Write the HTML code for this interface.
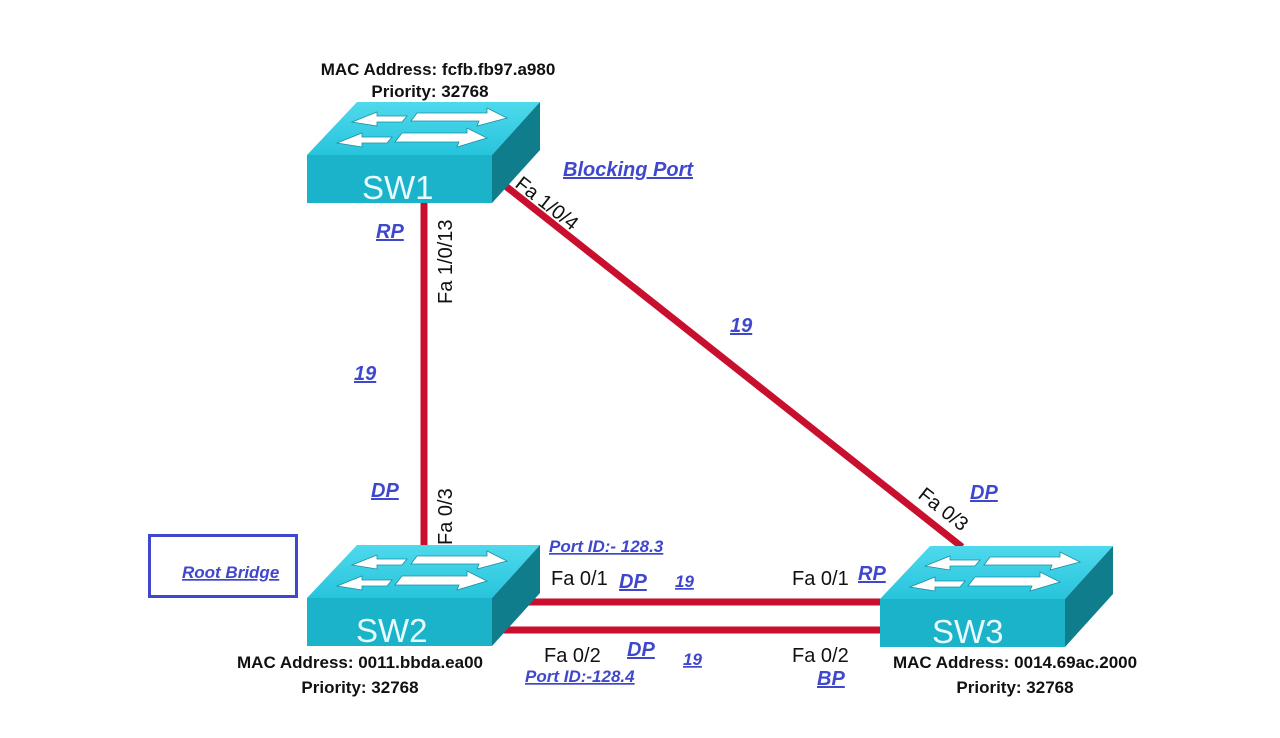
<!DOCTYPE html>
<html><head><style>
body{margin:0;background:#fff;}
svg{display:block}
.b{font-family:"Liberation Sans",sans-serif;font-size:17px;font-weight:bold;fill:#111;}
.l{font-family:"Liberation Sans",sans-serif;font-size:20px;font-weight:bold;font-style:italic;fill:#3f48cc;text-decoration:underline;}
.p{font-family:"Liberation Sans",sans-serif;font-size:20px;fill:#111;}
.sw{font-family:"Liberation Sans",sans-serif;font-size:33px;fill:#e8fbff;}
</style></head><body>
<svg width="1280" height="738" viewBox="0 0 1280 738" xmlns="http://www.w3.org/2000/svg">
<defs>
<linearGradient id="tg" x1="0" y1="1" x2="0" y2="0"><stop offset="0" stop-color="#27c4dc"/><stop offset="1" stop-color="#4fd9ec"/></linearGradient>
<g id="sw">
<polygon points="0,0 50,-53 233,-53 185,0" fill="url(#tg)"/>
<rect x="0" y="0" width="185" height="48" fill="#1bb3c9"/>
<polygon points="185,0 233,-53 233,-5 185,48" fill="#0f7d8c"/>
<g fill="#fff" stroke="#1a8fa3" stroke-width="0.8">
<polygon points="45,-33 70,-43 70,-39 100,-39 95,-33 70,-33 70,-29"/>
<polygon points="30,-12 55,-22 55,-18 85,-18 80,-12 55,-12 55,-8"/>
<polygon points="110,-42 180,-42 180,-47 200,-37 170,-29 172,-34 104,-34"/>
<polygon points="95,-22 160,-22 160,-27 180,-17 150,-8 152,-13 88,-13"/>
</g>
</g>
</defs>
<g stroke="#c8102e" stroke-width="7">
<line x1="424" y1="203" x2="424" y2="548"/>
<line x1="503" y1="184" x2="962" y2="547"/>
<line x1="525" y1="602" x2="882" y2="602"/>
<line x1="500" y1="630" x2="882" y2="630"/>
</g>
<use href="#sw" x="307" y="155"/>
<text class="sw" x="362" y="199">SW1</text>
<use href="#sw" x="307" y="598"/>
<text class="sw" x="356" y="642">SW2</text>
<use href="#sw" x="880" y="599"/>
<text class="sw" x="932" y="643">SW3</text>

<text class="b" x="438" y="75" text-anchor="middle">MAC Address: fcfb.fb97.a980</text>
<text class="b" x="430" y="97" text-anchor="middle">Priority: 32768</text>
<text class="b" x="360" y="668" text-anchor="middle">MAC Address: 0011.bbda.ea00</text>
<text class="b" x="360" y="693" text-anchor="middle">Priority: 32768</text>
<text class="b" x="1015" y="668" text-anchor="middle">MAC Address: 0014.69ac.2000</text>
<text class="b" x="1015" y="693" text-anchor="middle">Priority: 32768</text>

<text class="p" transform="translate(452,304) rotate(-90)">Fa 1/0/13</text>
<text class="p" transform="translate(452,545) rotate(-90)">Fa 0/3</text>
<text class="p" transform="translate(514,186) rotate(38)">Fa 1/0/4</text>
<text class="p" transform="translate(917,497) rotate(38)">Fa 0/3</text>
<text class="p" x="551" y="585">Fa 0/1</text>
<text class="p" x="544" y="662">Fa 0/2</text>
<text class="p" x="792" y="585">Fa 0/1</text>
<text class="p" x="792" y="662">Fa 0/2</text>

<text class="l" x="563" y="176">Blocking Port</text>
<text class="l" x="376" y="238">RP</text>
<text class="l" x="354" y="380">19</text>
<text class="l" x="730" y="332">19</text>
<text class="l" x="371" y="497">DP</text>
<text class="l" x="970" y="499">DP</text>
<text class="l" x="549" y="552" style="font-size:17px">Port ID:- 128.3</text>
<text class="l" x="619" y="588">DP</text>
<text class="l" x="675" y="587" style="font-size:17px">19</text>
<text class="l" x="858" y="580">RP</text>
<text class="l" x="627" y="656">DP</text>
<text class="l" x="683" y="665" style="font-size:17px">19</text>
<text class="l" x="525" y="682" style="font-size:17px">Port ID:-128.4</text>
<text class="l" x="817" y="685">BP</text>

<rect x="149.5" y="535.5" width="147" height="61" fill="none" stroke="#3f48cc" stroke-width="3"/>
<text class="l" x="182" y="578" style="font-size:17px">Root Bridge</text>
</svg>
</body></html>
